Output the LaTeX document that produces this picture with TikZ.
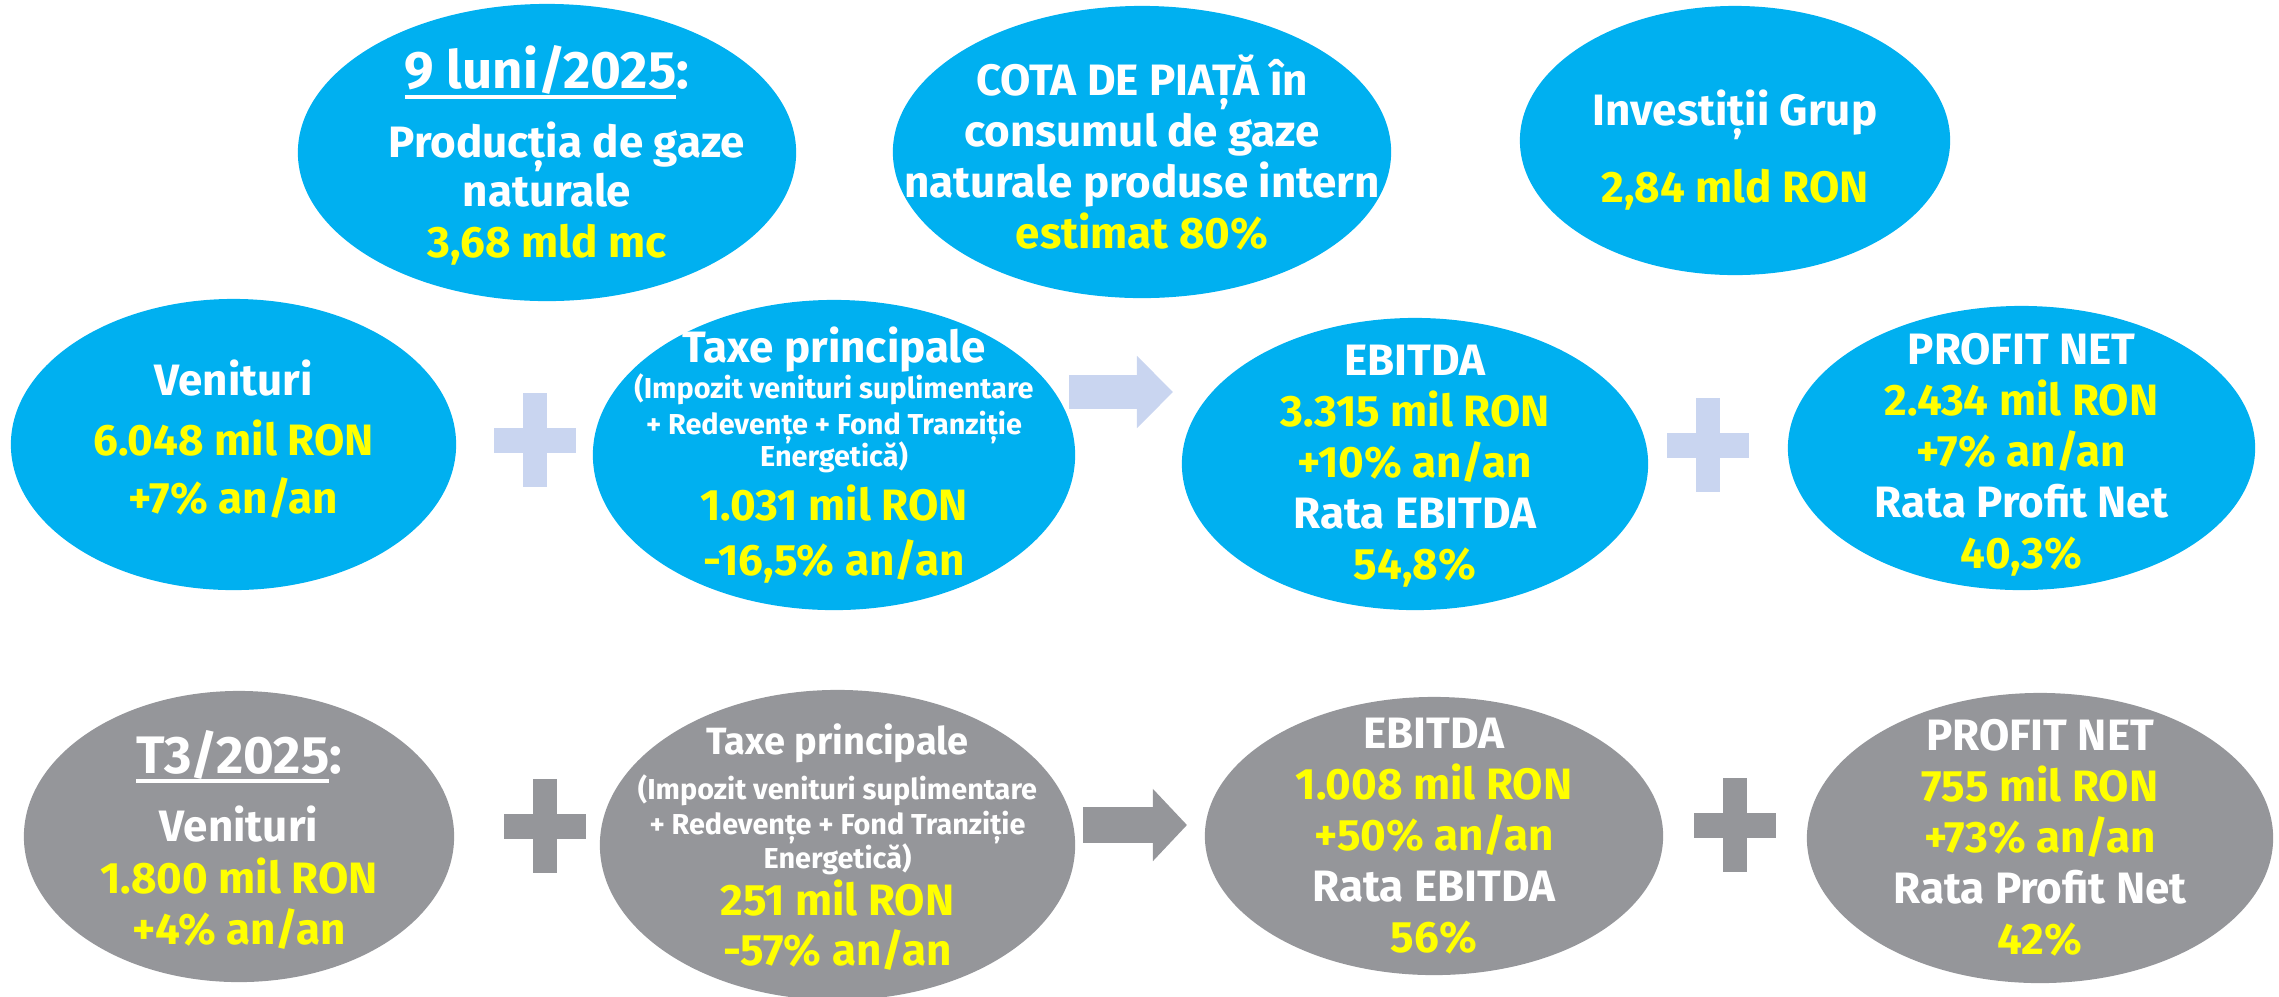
\documentclass[tikz,border=0pt]{standalone}
\usepackage{fontspec}
\setmainfont{Fira Sans}
\usetikzlibrary{shapes.geometric,arrows.meta}

\definecolor{skyblue}{RGB}{0,176,240}
\definecolor{midgray}{RGB}{149,150,154}
\definecolor{paleblue}{RGB}{201,213,240}
\definecolor{hiyel}{RGB}{255,255,0}

\newcommand{\yl}[1]{{\color{hiyel}#1}}
\newcommand{\sm}[1]{{\fontsize{8.2}{9.7}\selectfont #1}}
\newcommand{\dateul}[1]{\setbox0\hbox{#1}\rlap{\rule[-2.85pt]{\wd0}{1.1pt}}\box0}
\newcommand{\datehead}[1]{{\fontsize{15}{18}\selectfont\dateul{#1}:}}

\tikzset{
    blob/.style={ellipse, inner sep=0pt},
    bluebl/.style={blob, fill=skyblue},
    graybl/.style={blob, fill=midgray},
    txt/.style={align=center, text=white, inner sep=0pt,
        font=\bfseries\fontsize{12.5}{14.5}\selectfont},
    plus/.pic={
        \fill (-41,-12.5) rectangle (41,12.5);
        \fill (-12,-47) rectangle (12,47);
    },
    flowb/.style={line width=0.34cm, paleblue, -{Triangle[length=0.36cm, width=0.70cm]}},
    flowg/.style={line width=0.36cm, midgray, -{Triangle[length=0.34cm, width=0.70cm]}},
}

\begin{document}
\begin{tikzpicture}[x=0.01cm, y=-0.01cm]
    \useasboundingbox (0,0) rectangle (2279,996);

    \node[bluebl, minimum width=4.98cm, minimum height=2.97cm] (nine) at (547,152.5) {};
    \node[bluebl, minimum width=4.98cm, minimum height=2.92cm] (cota) at (1142,152) {};
    \node[bluebl, minimum width=4.30cm, minimum height=2.69cm] (inv) at (1735,140.5) {};

    \node[bluebl, minimum width=4.45cm, minimum height=2.91cm] (ven9) at (233.5,444.5) {};
    \node[bluebl, minimum width=4.82cm, minimum height=3.10cm] (tax9) at (834,455) {};
    \node[bluebl, minimum width=4.66cm, minimum height=2.92cm] (ebitda9) at (1415,464) {};
    \node[bluebl, minimum width=4.67cm, minimum height=2.84cm] (profit9) at (2021.5,448) {};

    \node[graybl, minimum width=4.30cm, minimum height=2.91cm] (ven3) at (239,836.5) {};
    \node[graybl, minimum width=4.75cm, minimum height=3.10cm] (tax3) at (837.5,845) {};
    \node[graybl, minimum width=4.58cm, minimum height=2.78cm] (ebitda3) at (1434,836) {};
    \node[graybl, minimum width=4.66cm, minimum height=2.90cm] (profit3) at (2040,838) {};

    \node[txt] (nine-t) at ([yshift=-0.03cm]nine) {
        \datehead{9 luni/2025}\\[5.1pt]
        \hspace*{0.4cm}Producția de gaze\\[-0.5pt]
        naturale\\
        \yl{3,68 mld mc}
    };
    \node[txt] (cota-t) at (cota) {
        COTA DE PIAȚĂ în\\
        consumul de gaze\\
        naturale produse intern\\
        \yl{estimat 80\%}
    };
    \node[txt] (inv-t) at ([yshift=-0.1cm]inv) {
        Investiții Grup\\[7.4pt]
        \yl{2,84 mld RON}
    };

    \node[txt] (ven9-t) at ([yshift=0.05cm]ven9) {
        Venituri\\[2.6pt]
        \yl{6.048 mil RON}\\[2pt]
        \yl{+7\% an/an}
    };
    \node[txt] (tax9-t) at (tax9) {
        Taxe principale\\[-4pt]
        \sm{(Impozit venituri suplimentare}\\[-4.5pt]
        \sm{+ Redevențe + Fond Tranziție}\\[-5.4pt]
        \sm{Energetică)}\\[1.1pt]
        \yl{1.031 mil RON}\\[1.1pt]
        \yl{-16,5\% an/an}
    };
    \node[txt] (ebitda9-t) at ([yshift=-0.02cm]ebitda9) {
        EBITDA\\
        \yl{3.315 mil RON}\\
        \yl{+10\% an/an}\\
        Rata EBITDA\\
        \yl{54,8\%}
    };
    \node[txt] (profit9-t) at ([yshift=-0.07cm]profit9) {
        PROFIT NET\\
        \yl{2.434 mil RON}\\
        \yl{+7\% an/an}\\
        Rata Profit Net\\
        \yl{40,3\%}
    };

    \node[txt] (ven3-t) at ([yshift=-0.03cm]ven3) {
        \datehead{T3/2025}\\[4.8pt]
        Venituri\\[0.3pt]
        \yl{1.800 mil RON}\\
        \yl{+4\% an/an}
    };
    \node[txt] (tax3-t) at ([yshift=-0.02cm]tax3) {
        {\fontsize{10.8}{12}\selectfont Taxe principale}\\[-1.7pt]
        \sm{(Impozit venituri suplimentare}\\[-4.5pt]
        \sm{+ Redevențe + Fond Tranziție}\\[-4.8pt]
        \sm{Energetică)}\\[-1.1pt]
        \yl{251 mil RON}\\[-0.3pt]
        \yl{-57\% an/an}
    };
    \node[txt] (ebitda3-t) at (ebitda3) {
        EBITDA\\
        \yl{1.008 mil RON}\\
        \yl{+50\% an/an}\\
        Rata EBITDA\\
        \yl{56\%}
    };
    \node[txt] (profit3-t) at (profit3) {
        PROFIT NET\\
        \yl{755 mil RON}\\
        \yl{+73\% an/an}\\
        Rata Profit Net\\
        \yl{42\%}
    };

    \pic[paleblue] at (535,440) {plus};
    \pic[paleblue] at (1708,445) {plus};
    \pic[midgray] at (545,826) {plus};
    \pic[midgray] at (1735,825) {plus};

    \coordinate (a9s) at (1069,392);
    \coordinate (a9e) at (1173,392);
    \coordinate (a3s) at (1083,825);
    \coordinate (a3e) at (1187,825);
    \draw[flowb] (a9s) -- (a9e);
    \draw[flowg] (a3s) -- (a3e);
\end{tikzpicture}
\end{document}
